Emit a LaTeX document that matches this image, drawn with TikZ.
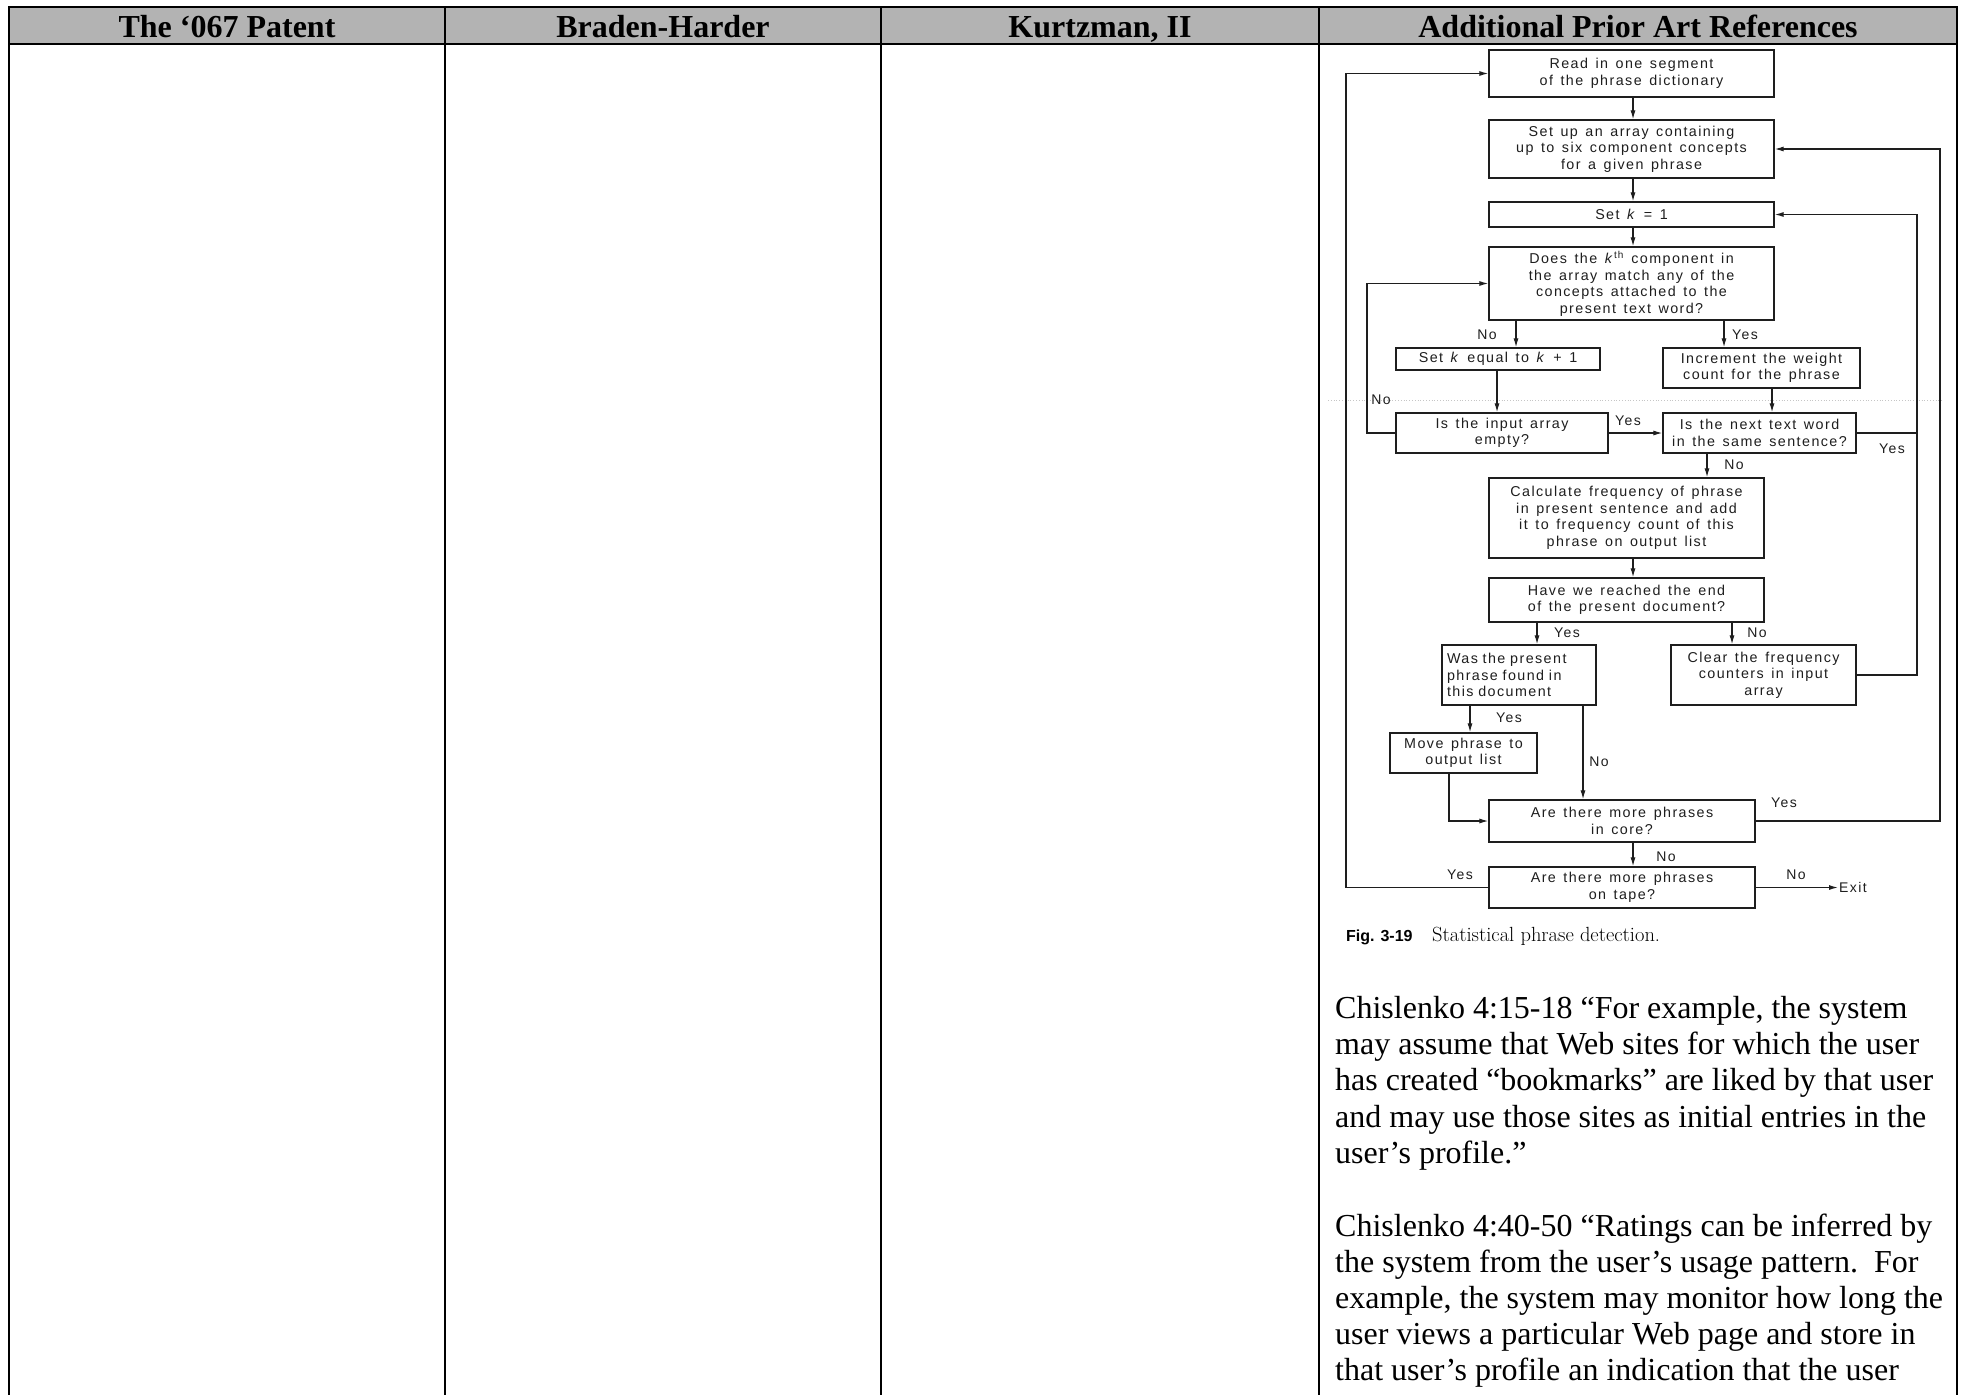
\documentclass[tikz,border=0pt]{standalone}
\usepackage{fontspec}
\usetikzlibrary{arrows.meta}
\newfontfamily\timesf{Liberation Serif}
\newfontfamily\flowf{Liberation Sans}[LetterSpace=10,WordSpace=1.4]
\newfontfamily\capf{Liberation Sans}
\definecolor{hdrgray}{RGB}{179,179,179}
\definecolor{ink}{RGB}{30,30,30}
\newcommand\flowbox[6]{\node[fbox, minimum width={#4-#2}, minimum height={#5-#3}] (#1) at ({(#2+#4)/2},{(#3+#5)/2}) {#6};}
\begin{document}
\begin{tikzpicture}[x=1pt,y=-1pt,
  tline/.style={line width=2pt, black},
  hdr/.style={font=\timesf\bfseries\fontsize{32}{36}\selectfont, anchor=base, inner sep=0pt},
  fbox/.style={draw=ink, line width=1.3pt, inner sep=0pt, align=center, font=\flowf\fontsize{14.3}{16.5}\selectfont, text=ink},
  flow/.style={draw=ink, line width=1.2pt},
  arr/.style={flow, -{Latex[length=9pt,width=5pt]}},
  lbl/.style={font=\flowf\fontsize{14}{15}\selectfont, text=ink, inner sep=0pt},
  body/.style={font=\timesf\fontsize{32}{36.2}\selectfont, align=left, anchor=north west, inner sep=0pt}
]
\useasboundingbox (0,0) rectangle (1965,1395);
\fill[white] (0,0) rectangle (1965,1395);
% table
\fill[hdrgray] (9,7) rectangle (1957,44);
\draw[tline] (8,7) -- (1958,7);
\draw[tline] (8,44) -- (1958,44);
\foreach \xx in {9,445,881,1319,1957} {\draw[tline] (\xx,6) -- (\xx,1395);}
\node[hdr] (h1) at (227,37) {The ‘067 Patent};
\node[hdr] (h2) at (663,37) {Braden-Harder};
\node[hdr] (h3) at (1100,37) {Kurtzman, II};
\node[hdr] (h4) at (1638,37) {Additional Prior Art References};
% scan artefact line
\draw[gray!45, dotted, line width=0.8pt] (1328,400) -- (1942,400);
% flowchart boxes
\flowbox{b1}{1489}{50}{1774}{97}{Read in one segment\\of the phrase dictionary}
\flowbox{b2}{1489}{120}{1774}{178}{Set up an array containing\\up to six component concepts\\for a given phrase}
\flowbox{b3}{1489}{202}{1774}{227}{Set \textit{k} = 1}
\flowbox{b4}{1489}{247}{1774}{320}{Does the \textit{k}\textsuperscript{th} component in\\the array match any of the\\concepts attached to the\\present text word?}
\flowbox{b5}{1396}{348}{1600}{370}{Set \textit{k} equal to \textit{k} + 1}
\flowbox{b6}{1663}{348}{1860}{388}{Increment the weight\\count for the phrase}
\flowbox{b7}{1396}{413}{1608}{453}{Is the input array\\empty?}
\flowbox{b8}{1663}{413}{1856}{453}{Is the next text word\\in the same sentence?}
\flowbox{b9}{1489}{478}{1764}{558}{Calculate frequency of phrase\\in present sentence and add\\it to frequency count of this\\phrase on output list}
\flowbox{b10}{1489}{578}{1764}{622}{Have we reached the end\\of the present document?}
\node[fbox, align=left, minimum width=154, minimum height=60, text width=144] (b11) at (1519,675) {Was the present\\phrase found in\\this document};
\flowbox{b12}{1671}{645}{1856}{705}{Clear the frequency\\counters in input\\array}
\flowbox{b13}{1390}{733}{1537}{773}{Move phrase to\\output list}
\flowbox{b14}{1489}{800}{1755}{842}{Are there more phrases\\in core?}
\flowbox{b15}{1489}{867}{1755}{908}{Are there more phrases\\on tape?}
\node[lbl, anchor=west, inner sep=1pt] (exit) at (1838,887.5) {Exit};
% x positions of vertical runs
\coordinate (xC) at (1633,0);
\coordinate (xNo) at (1516,0);
\coordinate (xYes) at (1724,0);
\coordinate (x57) at (1497,0);
\coordinate (x68) at (1772,0);
\coordinate (x89) at (1707,0);
\coordinate (x1011) at (1537,0);
\coordinate (x1012) at (1732,0);
\coordinate (x1113) at (1470,0);
\coordinate (x1114) at (1583,0);
\coordinate (x1314) at (1449,0);
\coordinate (xL1) at (1346,0);
\coordinate (xL2) at (1367,0);
\coordinate (xR1) at (1917,0);
\coordinate (xR2) at (1940,0);
% connectors
\draw[arr] (b1.south -| xC) -- (b2.north -| xC);
\draw[arr] (b2.south -| xC) -- (b3.north -| xC);
\draw[arr] (b3.south -| xC) -- (b4.north -| xC);
\draw[arr] (b4.south -| xNo) -- (b5.north -| xNo);
\draw[arr] (b4.south -| xYes) -- (b6.north -| xYes);
\draw[arr] (b5.south -| x57) -- (b7.north -| x57);
\draw[arr] (b6.south -| x68) -- (b8.north -| x68);
\draw[arr] (b7.east) -- (b8.west);
\draw[arr] (b7.west) -- (b7.west -| xL2) |- (b4.west);
\draw[arr] (b8.east) -- (b8.east -| xR1) |- (b3.east);
\draw[flow] (b12.east) -- (b12.east -| xR1) -- (b8.east -| xR1);
\draw[arr] (b8.south -| x89) -- (b9.north -| x89);
\draw[arr] (b9.south -| xC) -- (b10.north -| xC);
\draw[arr] (b10.south -| x1011) -- (b11.north -| x1011);
\draw[arr] (b10.south -| x1012) -- (b12.north -| x1012);
\draw[arr] (b11.south -| x1113) -- (b13.north -| x1113);
\draw[arr] (b11.south -| x1114) -- (b14.north -| x1114);
\draw[arr] (b13.south -| x1314) |- (b14.west);
\draw[arr] (b14.east) -- (b14.east -| xR2) |- (b2.east);
\draw[arr] (b14.south -| xC) -- (b15.north -| xC);
\draw[arr] (b15.west) -- (b15.west -| xL1) |- (b1.west);
\draw[arr] (b15.east) -- (exit.west);
% labels
\node[lbl] (l1) at (1487,335) {No};
\node[lbl] (l2) at (1745,335) {Yes};
\node[lbl] (l3) at (1381,400) {No};
\node[lbl] (l4) at (1628,421) {Yes};
\node[lbl] (l5) at (1892,449) {Yes};
\node[lbl] (l6) at (1734,465) {No};
\node[lbl] (l7) at (1567,633) {Yes};
\node[lbl] (l8) at (1757,633) {No};
\node[lbl] (l9) at (1509,718) {Yes};
\node[lbl] (l10) at (1599,762) {No};
\node[lbl] (l11) at (1784,803) {Yes};
\node[lbl] (l12) at (1666,857) {No};
\node[lbl] (l13) at (1460,875) {Yes};
\node[lbl] (l14) at (1796,875) {No};
% caption
\node[anchor=base west, inner sep=0pt, font=\capf\bfseries\fontsize{16}{18}\selectfont] (figno) at (1346,941) {Fig. 3-19};
\node[anchor=base west, inner sep=0pt, font=\fontsize{20.5}{24}\selectfont] (figcap) at (1432,941) {Statistical phrase detection.};
% body text
\node[body] (p1) at (1335,996) {Chislenko 4:15-18 “For example, the system\\may assume that Web sites for which the user\\has created “bookmarks” are liked by that user\\and may use those sites as initial entries in the\\user’s profile.”};
\node[body] (p2) at (1335,1213.3) {Chislenko 4:40-50 “Ratings can be inferred by\\the system from the user’s usage pattern.\ \ For\\example, the system may monitor how long the\\user views a particular Web page and store in\\that user’s profile an indication that the user};
\end{tikzpicture}
\end{document}
